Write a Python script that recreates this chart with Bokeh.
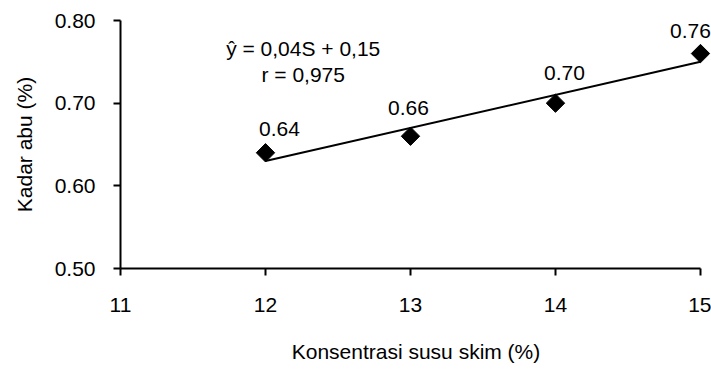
import numpy as np
from bokeh.plotting import figure
from bokeh.models import ColumnDataSource, LabelSet, Label, FixedTicker, Range1d, NumeralTickFormatter
from bokeh.core.properties import value
from bokeh.embed import file_html
from bokeh.resources import INLINE

# data
konsentrasi = [12, 13, 14, 15]
kadar_abu = [0.64, 0.66, 0.70, 0.76]
labels = ["0.64", "0.66", "0.70", "0.76"]
x_ticks = [11, 12, 13, 14, 15]
y_ticks = [0.50, 0.60, 0.70, 0.80]
eq_line1 = "ŷ = 0,04S + 0,15"
eq_line2 = "r = 0,975"

FONT = "Liberation Sans"
FS = "21px"

p = figure(width=711, height=370, output_backend="svg", toolbar_location=None,
           x_range=Range1d(11, 15.076), y_range=Range1d(0.50, 0.80),
           min_border_left=120, min_border_right=0, min_border_top=20, min_border_bottom=102)
p.background_fill_color = "white"
p.border_fill_color = "white"
p.outline_line_color = None
p.xgrid.visible = False
p.ygrid.visible = False

# trend line from linear fit
slope, intercept = np.polyfit(konsentrasi, kadar_abu, 1)
xs = np.array([min(konsentrasi), max(konsentrasi)])
p.line(xs, slope * xs + intercept, line_color="black", line_width=2)

src = ColumnDataSource(dict(x=konsentrasi, y=kadar_abu, lab=labels,
                            xo=[14, -2, 9, -10], yo=[24, 28, 30, 23]))
p.scatter("x", "y", source=src, marker="square", size=13, angle=np.pi / 4,
          fill_color="black", line_color="black")

ls = LabelSet(x="x", y="y", text="lab", source=src, x_offset="xo", y_offset="yo",
              text_align="center", text_baseline="middle",
              text_font=value(FONT), text_font_size=value(FS), text_color="black")
p.add_layout(ls)

p.add_layout(Label(x=12.26, y=0.766, text=eq_line1, text_align="center", text_baseline="middle",
                   text_font=FONT, text_font_size=FS, text_color="black"))
p.add_layout(Label(x=12.26, y=0.735, text=eq_line2, text_align="center", text_baseline="middle",
                   text_font=FONT, text_font_size=FS, text_color="black"))

for ax in (p.xaxis[0], p.yaxis[0]):
    ax.axis_line_color = "black"
    ax.axis_line_width = 2
    ax.major_tick_line_color = "black"
    ax.major_tick_line_width = 2
    ax.major_tick_in = 0
    ax.major_tick_out = 7
    ax.minor_tick_line_color = None
    ax.major_label_text_font = FONT
    ax.major_label_text_font_size = FS
    ax.major_label_text_color = "black"
    ax.axis_label_text_font = FONT
    ax.axis_label_text_font_size = FS
    ax.axis_label_text_font_style = "normal"
    ax.axis_label_text_color = "black"

p.xaxis.ticker = FixedTicker(ticks=x_ticks)
p.yaxis.ticker = FixedTicker(ticks=y_ticks)
p.xaxis.bounds = (x_ticks[0], x_ticks[-1])
p.yaxis.formatter = NumeralTickFormatter(format="0.00")
p.xaxis.axis_label = "Konsentrasi susu skim (%)"
p.yaxis.axis_label = "Kadar abu (%)"
p.xaxis.major_label_standoff = 22
p.yaxis.major_label_standoff = 18
p.xaxis.axis_label_standoff = 25
p.yaxis.axis_label_standoff = 16

open("out.html", "w").write(file_html(p, INLINE))
